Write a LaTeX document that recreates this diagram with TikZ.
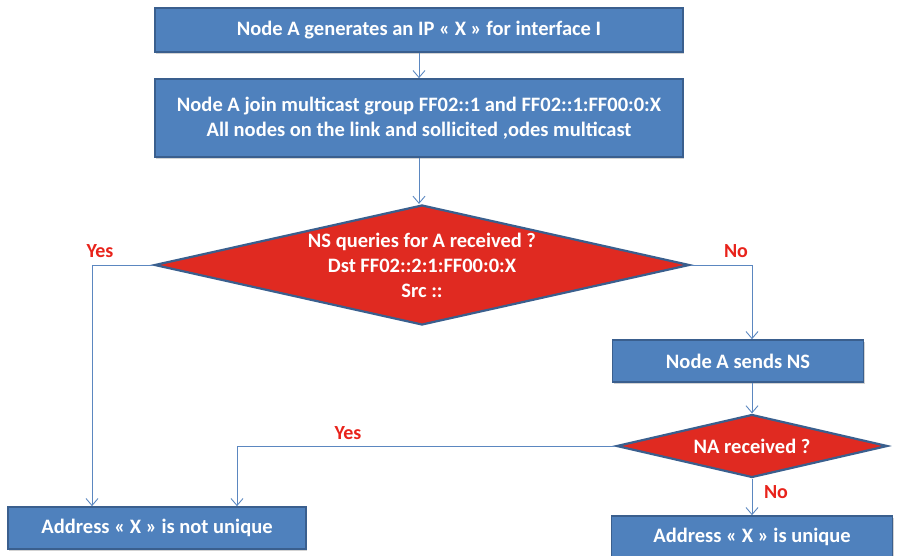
\documentclass[tikz,border=0pt]{standalone}
\usepackage{fontspec}
\setmainfont{Carlito}
\usetikzlibrary{shapes.geometric,arrows.meta,shadows}
\definecolor{boxblue}{HTML}{4F81BD}
\definecolor{boxedge}{HTML}{3A5F8E}
\definecolor{decred}{HTML}{E02A21}
\definecolor{answerred}{HTML}{E8231B}
\definecolor{flowblue}{HTML}{5B87C0}

\begin{document}
\begin{tikzpicture}[x=1pt,y=-1pt,
  stepbox/.style={draw=boxedge,line width=1.6pt,fill=boxblue,text=white,
    font=\fontsize{20.5}{25}\selectfont\bfseries,align=center,inner sep=0pt,
    drop shadow={shadow xshift=1pt,shadow yshift=-2pt,opacity=0.35}},
  decision/.style={diamond,draw=boxedge,line width=2.2pt,fill=decred,inner sep=0pt},
  dectext/.style={text=white,font=\fontsize{20.5}{25}\selectfont\bfseries,align=center},
  flow/.style={draw=flowblue,line width=0.9pt,-{Straight Barb[length=7pt,width=12pt]}},
  answer/.style={text=answerred,font=\fontsize{20}{22}\selectfont\bfseries}]
\useasboundingbox (0,0) rectangle (907,556);

% process boxes
\node[stepbox,minimum width=528,minimum height=44] (gen) at (419,30)
  {Node A generates an IP « X » for interface I};
\node[stepbox,minimum width=528,minimum height=78] (join) at (419,118)
  {Node A join multicast group FF02::1 and FF02::1:FF00:0:X\\
   All nodes on the link and sollicited ,odes multicast};
\node[stepbox,minimum width=251,minimum height=42] (sends) at (738,361)
  {Node A sends NS};
\node[stepbox,minimum width=298,minimum height=42] (notu) at (157,528)
  {Address « X » is not unique};
\node[stepbox,minimum width=281,minimum height=42] (uniq) at (752,537)
  {Address « X » is unique};

% decisions
\node[decision,minimum width=535,minimum height=120] (q1) at (422,265) {};
\node[dectext] (q1t) at (q1.center)
  {NS queries for A received ?\\ Dst FF02::2:1:FF00:0:X\\ Src ::};
\node[decision,minimum width=271,minimum height=63] (q2) at (752,446) {};
\node[dectext] (q2t) at (q2.center) {NA received ?};

% connectors
\draw[flow] (gen.south) -- (join.north);
\draw[flow] (join.south) -- (join.south |- q1.north);
\draw[flow] (q1.west) -| ([xshift=-65pt]notu.north);
\draw[flow] (q1.east) -| (sends.north -| q2.north);
\draw[flow] (sends.south -| q2.north) -- (q2.north);
\draw[flow] (q2.west) -| ([xshift=80pt]notu.north);
\draw[flow] (q2.south) -- (uniq.north -| q2.south);

% branch labels
\node[answer] (y1) at (100,251) {Yes};
\node[answer] (n1) at (736,251) {No};
\node[answer] (y2) at (348,433) {Yes};
\node[answer] (n2) at (776,492) {No};
\end{tikzpicture}
\end{document}
